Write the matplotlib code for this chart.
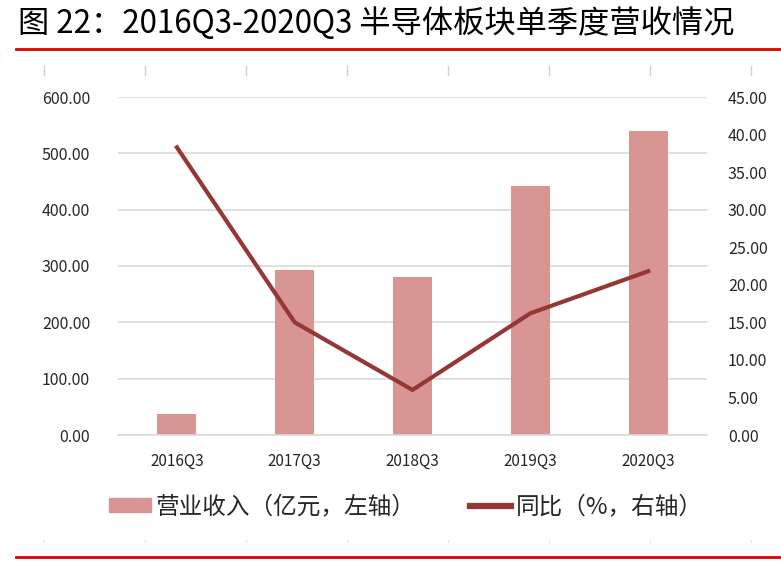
import numpy as np
import matplotlib.pyplot as plt
from matplotlib.lines import Line2D

plt.rcParams['font.family'] = ['Noto Sans CJK SC', 'DejaVu Sans']

# Données
quarters = ['2016Q3', '2017Q3', '2018Q3', '2019Q3', '2020Q3']
revenue = [37, 293, 280, 442, 540]        # 营业收入（亿元）
yoy = [38.3, 15.0, 6.0, 16.2, 21.8]       # 同比（%）
left_ticks = [0, 100, 200, 300, 400, 500, 600]
right_ticks = [0, 5, 10, 15, 20, 25, 30, 35, 40, 45]

bar_color = '#D99594'
line_color = '#953735'
grid_color = '#D9D9D9'
text_color = '#262626'

fig = plt.figure(figsize=(7.81, 5.62), dpi=100)
ax = fig.add_axes([118 / 781, 1 - 435 / 562, 589 / 781, 338 / 562])
x = np.arange(len(quarters))

ax.bar(x, revenue, width=0.33, color=bar_color, zorder=2)
ax.set_xlim(-0.5, 4.5)
ax.set_ylim(0, 600)
ax.set_yticks(left_ticks)
ax.set_yticklabels(['%.2f' % v for v in left_ticks], fontsize=11.5, color=text_color)
ax.set_xticks(x)
ax.set_xticklabels(quarters, fontsize=11, color=text_color)
ax.tick_params(length=0, pad=20)
ax.tick_params(axis='x', pad=13)
ax.grid(axis='y', color=grid_color, linewidth=1.2, zorder=0)
for s in ['top', 'right', 'left']:
    ax.spines[s].set_visible(False)
ax.spines['bottom'].set_color(grid_color)
ax.spines['bottom'].set_linewidth(1.2)

ax2 = ax.twinx()
ax2.plot(x, yoy, color=line_color, linewidth=3, zorder=3)
ax2.set_ylim(0, 45)
ax2.set_yticks(right_ticks)
ax2.set_yticklabels(['%.2f' % v for v in right_ticks], fontsize=11.5, color=text_color)
ax2.tick_params(length=0, pad=15)
for s in ax2.spines.values():
    s.set_visible(False)

# Légende
handles = [plt.Rectangle((0, 0), 1, 1, color=bar_color),
           Line2D([0], [0], color=line_color, linewidth=4.5)]
fig.legend(handles, ['营业收入（亿元，左轴）', '同比（%，右轴）'],
           loc='center', bbox_to_anchor=(406 / 781, 1 - 507 / 562), ncol=2,
           frameon=False, fontsize=17, handlelength=1.75, handleheight=0.55,
           handletextpad=0.2, columnspacing=2.3, labelcolor=text_color)

# Titre et lignes rouges
fig.text(18 / 781, 1 - 24 / 562, '图 22：2016Q3-2020Q3 半导体板块单季度营收情况',
         fontsize=22.5, va='center', ha='left', color='black')
fig.add_artist(Line2D([16 / 781, 1], [1 - 49 / 562] * 2, color='#E00000', linewidth=2))
fig.add_artist(Line2D([16 / 781, 1], [1 - 557 / 562] * 2, color='#E00000', linewidth=2))

# Petits traits gris en haut
for px in [44, 145, 246, 347, 448, 549, 650, 751]:
    fig.add_artist(Line2D([px / 781] * 2, [1 - 66 / 562, 1 - 75 / 562],
                          color='#D0D0D0', linewidth=1))
    fig.add_artist(Line2D([px / 781] * 2, [1 - 540 / 562, 1 - 542 / 562],
                          color='#E6E6E6', linewidth=1))

fig.savefig('out.png', dpi=100)
